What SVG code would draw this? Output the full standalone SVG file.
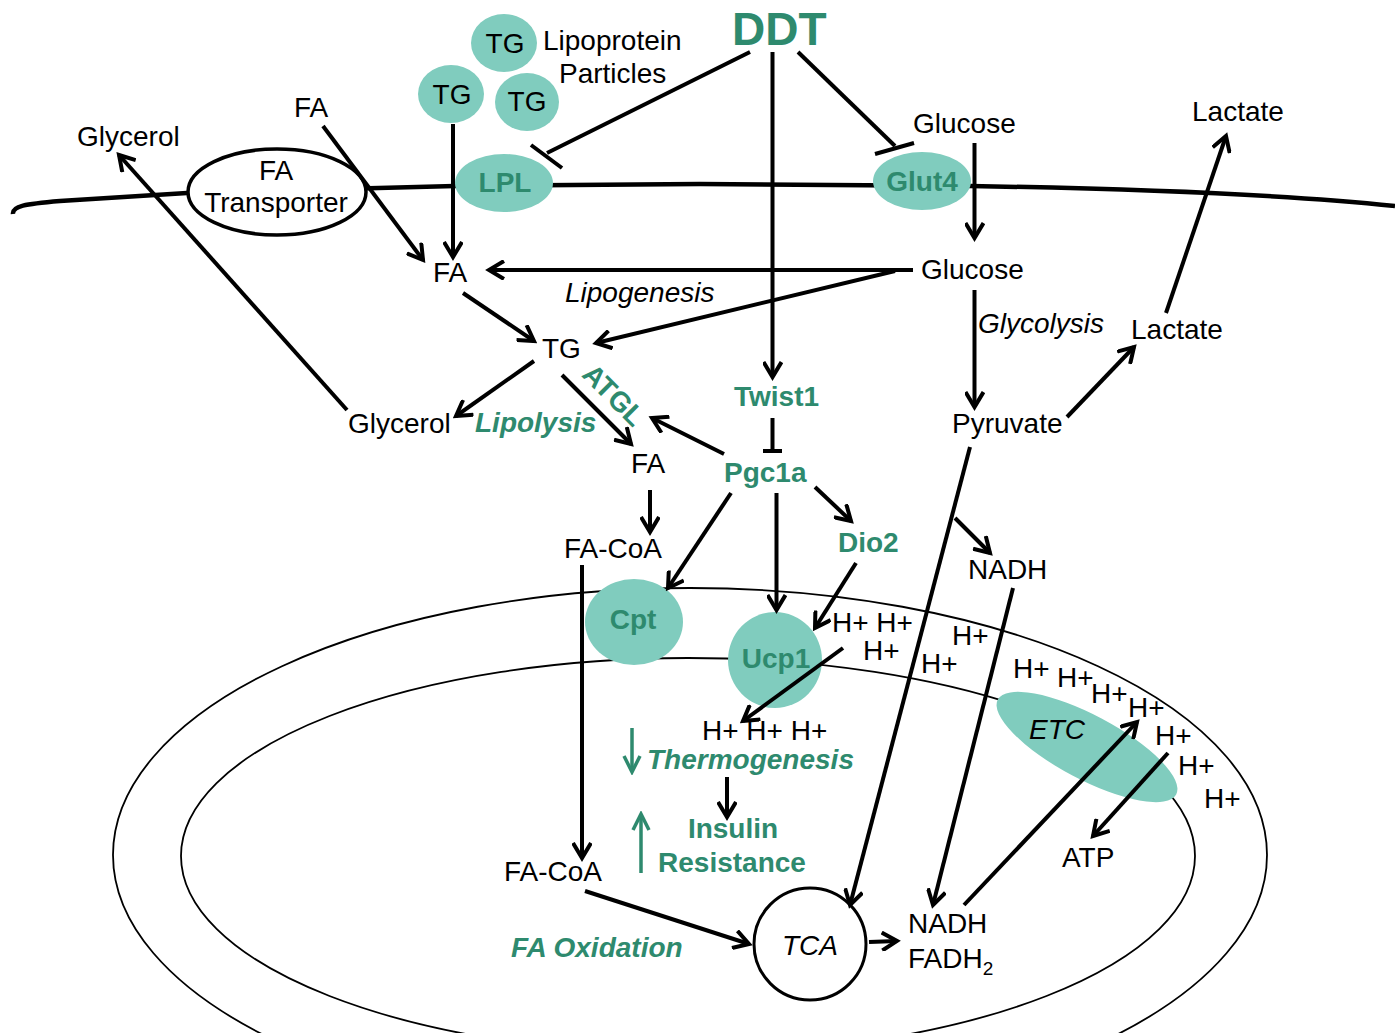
<svg xmlns="http://www.w3.org/2000/svg" width="1395" height="1033" viewBox="0 0 1395 1033">
<style>
text{font-family:"Liberation Sans",Arial,sans-serif;font-size:28px;fill:#000}
.g{fill:#2E8A6E;font-weight:bold}
.it{font-style:italic}
.mid{text-anchor:middle}
.teal{fill:#80CCBE;stroke:none}
.mem{fill:none;stroke:#000;stroke-width:1.8}
.ar{fill:none;stroke:#000;stroke-width:4;marker-end:url(#ah)}
.ln{fill:none;stroke:#000;stroke-width:4}
.ga{fill:none;stroke:#2E8A6E;stroke-width:3.5;marker-end:url(#gh)}
</style>
<defs>
<marker id="ah" viewBox="0 0 20 20" refX="16" refY="10" markerWidth="20" markerHeight="20" markerUnits="userSpaceOnUse" orient="auto">
<path d="M1,1 L16,10 L1,19" fill="none" stroke="#000" stroke-width="4"/>
</marker>
<marker id="gh" viewBox="0 0 20 20" refX="17" refY="10" markerWidth="20" markerHeight="20" markerUnits="userSpaceOnUse" orient="auto">
<path d="M1,2 L17,10 L1,18" fill="none" stroke="#2E8A6E" stroke-width="3.5"/>
</marker>
</defs>
<rect width="1395" height="1033" fill="#fff"/>

<g id="mitochondrion">
<ellipse class="mem" cx="690" cy="855" rx="577" ry="267"/>
<ellipse class="mem" cx="688" cy="856" rx="507" ry="198"/>
</g>
<g id="cell-membrane">
<path d="M13,214 C12,206 25,204 60,201 L187,193 L455,186 L700,184 L970,186 C1150,189 1300,196 1395,206" fill="none" stroke="#000" stroke-width="4.5"/>
</g>

<g id="fa-transporter">
<ellipse cx="277" cy="192" rx="89" ry="43" fill="#fff" stroke="#000" stroke-width="3.5"/>
<text class="mid" x="276" y="180">FA</text>
<text class="mid" x="276" y="212">Transporter</text>
</g>
<g id="tg1"><ellipse class="teal" cx="504" cy="43" rx="33" ry="29"/><text class="mid" x="505" y="53">TG</text></g>
<g id="tg2"><ellipse class="teal" cx="451" cy="94" rx="33" ry="29"/><text class="mid" x="452" y="104">TG</text></g>
<g id="tg3"><ellipse class="teal" cx="527" cy="102" rx="32" ry="29"/><text class="mid" x="527" y="111">TG</text></g>
<g id="lipoprotein-label"><text x="543" y="50">Lipoprotein</text><text x="559" y="83">Particles</text></g>
<g id="lpl"><ellipse class="teal" cx="504" cy="183" rx="49" ry="29"/><text class="g mid" x="505" y="192">LPL</text></g>
<g id="glut4"><ellipse class="teal" cx="922" cy="181" rx="49" ry="29"/><text class="g mid" x="922" y="191">Glut4</text></g>
<g id="cpt"><ellipse class="teal" cx="634" cy="622" rx="49" ry="43"/><text class="g mid" x="633" y="629">Cpt</text></g>
<g id="ucp1"><ellipse class="teal" cx="775" cy="660" rx="47" ry="48"/><text class="g mid" x="776" y="668">Ucp1</text></g>
<g id="etc"><ellipse class="teal" cx="1087" cy="747" rx="101" ry="32" transform="rotate(28 1087 747)"/><text class="it" x="1029" y="739">ETC</text></g>
<g id="tca"><circle cx="810" cy="944" r="56" fill="#fff" stroke="#000" stroke-width="3"/><text class="it mid" x="810" y="955">TCA</text></g>

<g id="labels">
<text class="g" x="732" y="45" style="font-size:46px">DDT</text>
<text x="77" y="146">Glycerol</text>
<text x="294" y="117">FA</text>
<text x="913" y="133">Glucose</text>
<text x="1192" y="121">Lactate</text>
<text x="433" y="282">FA</text>
<text x="921" y="279">Glucose</text>
<text class="it" x="565" y="302">Lipogenesis</text>
<text x="542" y="358">TG</text>
<text class="it" x="978" y="333">Glycolysis</text>
<text x="1131" y="339">Lactate</text>
<text x="952" y="433">Pyruvate</text>
<text x="348" y="433">Glycerol</text>
<text class="g it" x="475" y="432">Lipolysis</text>
<text class="g mid" transform="translate(607,402) rotate(45)">ATGL</text>
<text class="g" x="734" y="406">Twist1</text>
<text class="g" x="724" y="482">Pgc1a</text>
<text x="631" y="473">FA</text>
<text x="564" y="558">FA-CoA</text>
<text class="g" x="838" y="552">Dio2</text>
<text x="968" y="579">NADH</text>
<text class="g it" x="647" y="769">Thermogenesis</text>
<text class="g mid" x="733" y="838">Insulin</text>
<text class="g mid" x="732" y="872">Resistance</text>
<text x="504" y="881">FA-CoA</text>
<text class="g it" x="511" y="957">FA Oxidation</text>
<text x="908" y="933">NADH</text>
<text x="908" y="968">FADH<tspan style="font-size:19px" dy="7">2</tspan></text>
<text x="1062" y="867">ATP</text>
</g>

<g id="protons">
<text x="832" y="632">H+ H+</text>
<text x="863" y="660">H+</text>
<text x="952" y="645">H+</text>
<text x="921" y="673">H+</text>
<text x="1013" y="678">H+</text>
<text x="1057" y="687">H+</text>
<text x="1091" y="703">H+</text>
<text x="1128" y="717">H+</text>
<text x="1155" y="745">H+</text>
<text x="1178" y="775">H+</text>
<text x="1204" y="808">H+</text>
<text x="702" y="740">H+ H+ H+</text>
</g>

<g id="connectors">
<line class="ln" x1="750" y1="52" x2="547" y2="153"/>
<line class="ln" x1="531" y1="145" x2="562" y2="168"/>
<line class="ln" x1="798" y1="52" x2="895" y2="146"/>
<line class="ln" x1="875" y1="154" x2="914" y2="143"/>
<line class="ar" x1="772.5" y1="52" x2="772.5" y2="377"/>
<line class="ln" x1="772.5" y1="418" x2="772.5" y2="451"/>
<line class="ln" x1="763" y1="451" x2="782" y2="451"/>
<line class="ar" x1="323" y1="126" x2="423" y2="260"/>
<line class="ar" x1="453" y1="124" x2="453" y2="257"/>
<line class="ar" x1="347" y1="410" x2="119" y2="155"/>
<line class="ar" x1="974.5" y1="143" x2="974.5" y2="238"/>
<line class="ar" x1="913" y1="270" x2="489" y2="270"/>
<line class="ar" x1="895" y1="271" x2="596" y2="343"/>
<line class="ar" x1="974.5" y1="290" x2="974.5" y2="407"/>
<line class="ar" x1="1067" y1="417" x2="1134" y2="347"/>
<line class="ar" x1="1166" y1="313" x2="1226" y2="136"/>
<line class="ar" x1="463" y1="293" x2="534" y2="341"/>
<line class="ar" x1="534" y1="361" x2="456" y2="416"/>
<line class="ar" x1="562" y1="375" x2="631" y2="444"/>
<line class="ar" x1="724" y1="454" x2="652" y2="418"/>
<line class="ar" x1="650" y1="490" x2="650" y2="532"/>
<line class="ar" x1="582" y1="565" x2="582" y2="858"/>
<line class="ar" x1="585" y1="891" x2="749" y2="944"/>
<line class="ar" x1="731" y1="493" x2="668" y2="588"/>
<line class="ar" x1="776.5" y1="493" x2="776.5" y2="610"/>
<line class="ar" x1="815" y1="487" x2="851" y2="521"/>
<line class="ar" x1="856" y1="563" x2="815" y2="628"/>
<line class="ar" x1="843" y1="648" x2="743" y2="721"/>
<line class="ar" x1="727" y1="777" x2="727" y2="817"/>
<line class="ga" x1="632" y1="728" x2="632" y2="772"/>
<line class="ga" x1="641" y1="873" x2="641" y2="814"/>
<line class="ar" x1="970" y1="447" x2="850" y2="905"/>
<line class="ar" x1="955" y1="518" x2="990" y2="553"/>
<line class="ar" x1="1013" y1="588" x2="933" y2="905"/>
<line class="ar" x1="869" y1="942" x2="897" y2="941"/>
<line class="ar" x1="964" y1="905" x2="1137" y2="722"/>
<line class="ar" x1="1168" y1="753" x2="1093" y2="836"/>
</g>
</svg>
